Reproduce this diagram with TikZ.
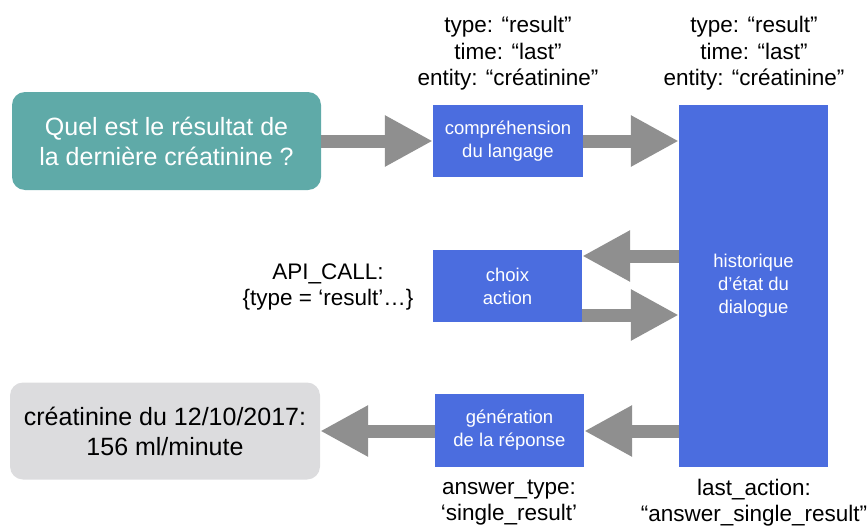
\documentclass[tikz,border=0pt]{standalone}
\usepackage{fontspec}
\setmainfont{Liberation Sans}
\usetikzlibrary{arrows.meta}

\definecolor{tealbox}{HTML}{5FAAA8}
\definecolor{bluebox}{HTML}{4B6DDF}
\definecolor{greybox}{HTML}{DCDCDE}
\definecolor{arrowgrey}{HTML}{8F8F8F}

\tikzset{
  stage/.style={fill=bluebox, text=white, align=center, inner sep=0pt,
    font=\fontsize{18.5}{23}\selectfont},
  bubble/.style={rounded corners=13pt, align=center, inner sep=0pt,
    font=\fontsize{25}{30}\selectfont},
  note/.style={align=center, inner sep=0pt, text=black,
    font=\fontsize{22.5}{26.5}\selectfont},
  bigarrow/.style={draw=arrowgrey, line width=13pt,
    -{Triangle[length=48pt,width=48pt]}},
}

\begin{document}
\begin{tikzpicture}[x=1pt,y=-1pt]
\useasboundingbox (0,0) rectangle (867,527);

% rows of the arrows
\coordinate (r1) at (0,141);
\coordinate (r2) at (0,256);
\coordinate (r3) at (0,315);
\coordinate (r4) at (0,431);

% user question and system answer
\node[bubble, fill=tealbox, text=white, minimum width=309pt, minimum height=98pt]
  (q) at (166.5,141) {Quel est le résultat de\\la dernière créatinine ?};
\node[bubble, fill=greybox, text=black, minimum width=310pt, minimum height=97pt]
  (ans) at (165,431) {créatinine du 12/10/2017:\\156 ml/minute};

% processing stages
\node[stage, minimum width=150pt, minimum height=72pt]
  (comp) at (508,141) {compréhension\\du langage};
\node[stage, minimum width=149pt, minimum height=72pt]
  (choix) at (507.5,286) {choix\\action};
\node[stage, minimum width=149pt, minimum height=73pt]
  (gen) at (509.5,430.5) {génération\\de la réponse};
\node[stage, minimum width=149pt, minimum height=362pt]
  (hist) at (753.5,286) {historique\\d’état du\\dialogue};

% annotations
\node[note] (n1) at (508,53.5) {type: “result”\\time: “last”\\entity: “créatinine”};
\node[note] (n2) at (754,53.5) {type: “result”\\time: “last”\\entity: “créatinine”};
\node[note] (n3) at (328,287) {API\_CALL:\\\{type = ‘result’…\}};
\node[note] (n4) at (509,502.5) {answer\_type:\\‘single\_result’};
\node[note] (n5) at (754,502.5) {last\_action:\\“answer\_single\_result”};

% data flow
\draw[bigarrow] (q.east |- r1) -- (comp.west |- r1);
\draw[bigarrow] (comp.east |- r1) -- (hist.west |- r1);
\draw[bigarrow] (hist.west |- r2) -- (choix.east |- r2);
\draw[bigarrow] (choix.east |- r3) -- (hist.west |- r3);
\draw[bigarrow] (hist.west |- r4) -- (gen.east |- r4);
\draw[bigarrow] (gen.west |- r4) -- (ans.east |- r4);
\end{tikzpicture}
\end{document}
